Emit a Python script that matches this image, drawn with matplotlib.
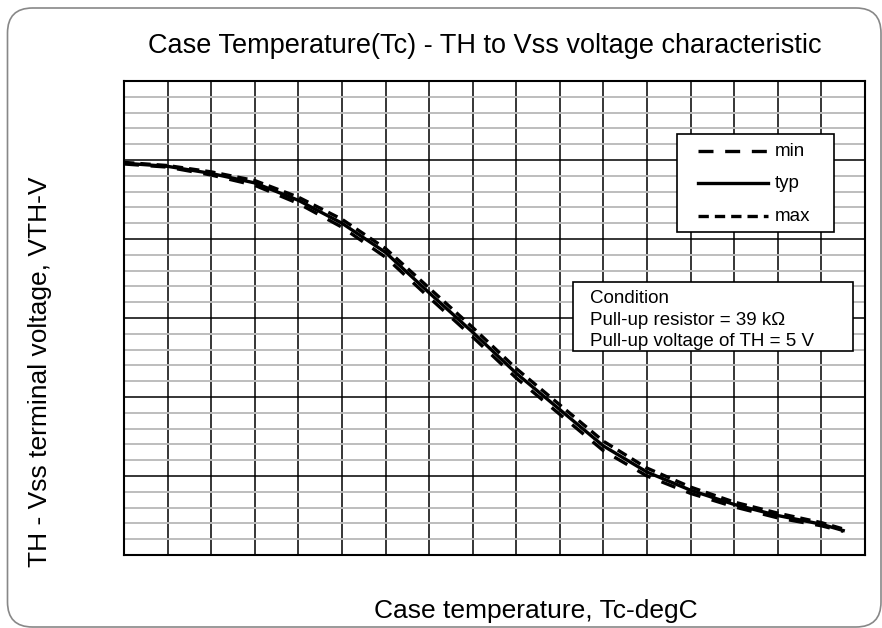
import matplotlib.pyplot as plt
from matplotlib.lines import Line2D
from matplotlib.patches import FancyBboxPatch, Rectangle
from matplotlib.ticker import MultipleLocator

plt.rcParams["font.family"] = ["Liberation Sans", "DejaVu Sans"]

# case temperature (degC) and TH-Vss voltage (V)
temp = [-40, -30, -20, -10, 0, 10, 20, 30, 40, 50, 60, 70, 80, 90, 100, 110, 120, 125]
v_typ = [4.96, 4.92, 4.83, 4.71, 4.49, 4.20, 3.83, 3.32, 2.82, 2.30, 1.84, 1.38,
         1.05, 0.82, 0.64, 0.50, 0.39, 0.31]
v_min = [4.95, 4.91, 4.81, 4.68, 4.45, 4.15, 3.77, 3.26, 2.76, 2.24, 1.78, 1.32,
         1.00, 0.78, 0.61, 0.47, 0.37, 0.30]
v_max = [4.97, 4.93, 4.85, 4.74, 4.53, 4.25, 3.88, 3.38, 2.88, 2.36, 1.90, 1.44,
         1.10, 0.86, 0.67, 0.53, 0.41, 0.33]

names = ["min", "typ", "max"]
values = [v_min, v_typ, v_max]
styles = [(0, (4.5, 3.5)), "-", (0, (3.1, 1.8))]

conditions = ["Condition",
              "Pull-up resistor = 39 k\u03a9",
              "Pull-up voltage of TH = 5 V"]

LW = 2.4

fig = plt.figure(figsize=(8.82, 6.28), dpi=100)
ax = fig.add_axes([0.1406, 0.1162, 0.8401, 0.7548])

# rounded outer frame
fig.add_artist(FancyBboxPatch(
    (0.075, 0.01), 8.735, 6.19,
    boxstyle="round,pad=0,rounding_size=0.25",
    transform=fig.dpi_scale_trans, facecolor="none",
    edgecolor="#888888", linewidth=1.2, clip_on=False))

ax.set_xlim(-40, 130)
ax.set_ylim(0, 6)
ax.xaxis.set_major_locator(MultipleLocator(10))
ax.yaxis.set_major_locator(MultipleLocator(1))
ax.yaxis.set_minor_locator(MultipleLocator(0.2))
ax.tick_params(which="both", length=0, labelbottom=False, labelleft=False)
ax.grid(which="minor", axis="y", color="#bdbdbd", linewidth=1.4)
ax.grid(which="major", color="black", linewidth=1.1)
ax.set_axisbelow(True)
for s in ax.spines.values():
    s.set_linewidth(1.5)

for name, vals, ls in zip(names, values, styles):
    ax.plot(temp, vals, color="black", linewidth=LW, linestyle=ls, zorder=3)

# legend box, drawn by hand to match the padding
ax.add_patch(Rectangle((0.7463, 0.6814), 0.2119, 0.2068, transform=ax.transAxes,
                       facecolor="white", edgecolor="black", linewidth=1.2,
                       zorder=5))
row_y = [0.8530, 0.7848, 0.7152]
for name, ls, y in zip(names, styles, row_y):
    ax.add_line(Line2D([0.7746, 0.8691], [y, y], transform=ax.transAxes,
                       color="black", linewidth=LW, linestyle=ls, zorder=6))
    ax.text(0.8785, y - 0.0115, name, transform=ax.transAxes, fontsize=13.5,
            va="baseline", ha="left", zorder=6)

# condition box
ax.add_patch(Rectangle((0.606, 0.430), 0.378, 0.146, transform=ax.transAxes,
                       facecolor="white", edgecolor="black", linewidth=1.2,
                       zorder=5))
for i, line in enumerate(conditions):
    ax.text(0.629, 0.5316 - i * 0.0454, line, transform=ax.transAxes,
            fontsize=13.5, va="baseline", ha="left", zorder=6)

fig.text(0.550, 0.927, "Case Temperature(Tc) - TH to Vss voltage characteristic",
         fontsize=19.5, ha="center", va="center")
fig.text(0.607, 0.027, "Case temperature, Tc-degC",
         fontsize=19, ha="center", va="center")
fig.text(0.045, 0.408, "TH - Vss terminal voltage, VTH-V",
         fontsize=19, ha="center", va="center", rotation=90)

fig.savefig("out.png", dpi=100)
